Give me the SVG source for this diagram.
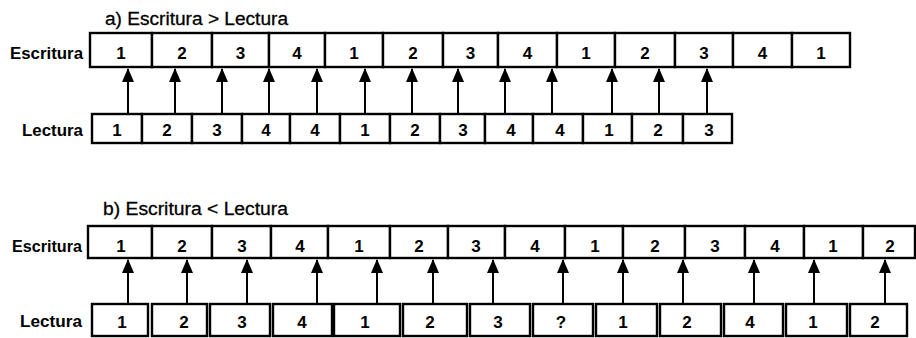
<svg xmlns="http://www.w3.org/2000/svg" width="916" height="338" viewBox="0 0 916 338">
<style>
.bg{fill:#fff}
.box rect{fill:#fff;stroke:#000;stroke-width:2.4}
.box text{font-family:"Liberation Sans",Arial,sans-serif;font-weight:bold;font-size:17px;text-anchor:middle;fill:#000}
.lbl{font-family:"Liberation Sans",Arial,sans-serif;font-weight:bold;font-size:17px;fill:#000}
.ttl{font-family:"Liberation Sans",Arial,sans-serif;font-size:18px;fill:#000;stroke:#000;stroke-width:0.3}
.conn line{stroke:#000;stroke-width:2;marker-end:url(#ah)}
</style>
<defs>
<marker id="ah" markerUnits="userSpaceOnUse" markerWidth="14" markerHeight="12" viewBox="0 0 14 12" refX="13" refY="6" orient="auto">
<path d="M0,0 L14,6 L0,12 Z" fill="#000"/>
</marker>
</defs>
<rect class="bg" width="916" height="338"/>

<text class="ttl" x="105" y="25" textLength="183" lengthAdjust="spacingAndGlyphs">a) Escritura &gt; Lectura</text>
<text class="lbl" x="10" y="59" textLength="73" lengthAdjust="spacingAndGlyphs">Escritura</text>
<text class="lbl" x="22" y="136" textLength="61" lengthAdjust="spacingAndGlyphs">Lectura</text>

<text class="ttl" x="103" y="215" textLength="185" lengthAdjust="spacingAndGlyphs">b) Escritura &lt; Lectura</text>
<text class="lbl" x="12" y="252" textLength="70" lengthAdjust="spacingAndGlyphs">Escritura</text>
<text class="lbl" x="20" y="327" textLength="62" lengthAdjust="spacingAndGlyphs">Lectura</text>

<g id="a-escritura">
<g id="aE1" class="box"><rect x="90" y="33" width="62" height="34"/><text x="121" y="59">1</text></g>
<g id="aE2" class="box"><rect x="152" y="33" width="60" height="34"/><text x="182" y="59">2</text></g>
<g id="aE3" class="box"><rect x="212" y="33" width="57" height="34"/><text x="240.5" y="59">3</text></g>
<g id="aE4" class="box"><rect x="269" y="33" width="56" height="34"/><text x="297" y="59">4</text></g>
<g id="aE5" class="box"><rect x="325" y="33" width="58" height="34"/><text x="354" y="59">1</text></g>
<g id="aE6" class="box"><rect x="383" y="33" width="60" height="34"/><text x="413" y="59">2</text></g>
<g id="aE7" class="box"><rect x="443" y="33" width="55" height="34"/><text x="470.5" y="59">3</text></g>
<g id="aE8" class="box"><rect x="498" y="33" width="59" height="34"/><text x="527.5" y="59">4</text></g>
<g id="aE9" class="box"><rect x="557" y="33" width="58" height="34"/><text x="586" y="59">1</text></g>
<g id="aE10" class="box"><rect x="615" y="33" width="60" height="34"/><text x="645" y="59">2</text></g>
<g id="aE11" class="box"><rect x="675" y="33" width="58" height="34"/><text x="704" y="59">3</text></g>
<g id="aE12" class="box"><rect x="733" y="33" width="59" height="34"/><text x="762.5" y="59">4</text></g>
<g id="aE13" class="box"><rect x="792" y="33" width="58" height="34"/><text x="821" y="59">1</text></g>
</g>

<g id="a-lectura">
<g id="aL1" class="box"><rect x="92" y="114" width="50" height="29"/><text x="117" y="136">1</text></g>
<g id="aL2" class="box"><rect x="142" y="114" width="50" height="29"/><text x="167" y="136">2</text></g>
<g id="aL3" class="box"><rect x="192" y="114" width="50" height="29"/><text x="217" y="136">3</text></g>
<g id="aL4" class="box"><rect x="242" y="114" width="48" height="29"/><text x="266" y="136">4</text></g>
<g id="aL5" class="box"><rect x="290" y="114" width="50" height="29"/><text x="315" y="136">4</text></g>
<g id="aL6" class="box"><rect x="340" y="114" width="50" height="29"/><text x="365" y="136">1</text></g>
<g id="aL7" class="box"><rect x="390" y="114" width="50" height="29"/><text x="415" y="136">2</text></g>
<g id="aL8" class="box"><rect x="440" y="114" width="45" height="29"/><text x="463" y="136">3</text></g>
<g id="aL9" class="box"><rect x="485" y="114" width="48" height="29"/><text x="511" y="136">4</text></g>
<g id="aL10" class="box"><rect x="533" y="114" width="50" height="29"/><text x="560" y="136">4</text></g>
<g id="aL11" class="box"><rect x="583" y="114" width="49" height="29"/><text x="609" y="136">1</text></g>
<g id="aL12" class="box"><rect x="632" y="114" width="51" height="29"/><text x="658" y="136">2</text></g>
<g id="aL13" class="box"><rect x="683" y="114" width="49" height="29"/><text x="709" y="136">3</text></g>
</g>

<g id="b-escritura">
<g id="bE1" class="box"><rect x="88" y="226" width="64" height="32"/><text x="121" y="252">1</text></g>
<g id="bE2" class="box"><rect x="152" y="226" width="60" height="32"/><text x="182" y="252">2</text></g>
<g id="bE3" class="box"><rect x="212" y="226" width="59" height="32"/><text x="242" y="252">3</text></g>
<g id="bE4" class="box"><rect x="271" y="226" width="57" height="32"/><text x="300" y="252">4</text></g>
<g id="bE5" class="box"><rect x="328" y="226" width="62" height="32"/><text x="359" y="252">1</text></g>
<g id="bE6" class="box"><rect x="390" y="226" width="58" height="32"/><text x="419" y="252">2</text></g>
<g id="bE7" class="box"><rect x="448" y="226" width="57" height="32"/><text x="476" y="252">3</text></g>
<g id="bE8" class="box"><rect x="505" y="226" width="60" height="32"/><text x="535" y="252">4</text></g>
<g id="bE9" class="box"><rect x="565" y="226" width="58" height="32"/><text x="595" y="252">1</text></g>
<g id="bE10" class="box"><rect x="623" y="226" width="62" height="32"/><text x="655" y="252">2</text></g>
<g id="bE11" class="box"><rect x="685" y="226" width="60" height="32"/><text x="715" y="252">3</text></g>
<g id="bE12" class="box"><rect x="745" y="226" width="59" height="32"/><text x="775" y="252">4</text></g>
<g id="bE13" class="box"><rect x="804" y="226" width="59" height="32"/><text x="833" y="252">1</text></g>
<g id="bE14" class="box"><rect x="863" y="226" width="52" height="32"/><text x="890" y="252">2</text></g>
</g>

<g id="b-lectura">
<g id="bL1" class="box"><rect x="92" y="304" width="56" height="32"/><text x="122" y="328">1</text></g>
<g id="bL2" class="box"><rect x="152" y="304" width="55" height="32"/><text x="184" y="328">2</text></g>
<g id="bL3" class="box"><rect x="210" y="304" width="60" height="32"/><text x="242" y="328">3</text></g>
<g id="bL4" class="box"><rect x="273" y="304" width="59" height="32"/><text x="302" y="328">4</text></g>
<g id="bL5" class="box"><rect x="334" y="304" width="66" height="32"/><text x="365" y="328">1</text></g>
<g id="bL6" class="box"><rect x="403" y="304" width="64" height="32"/><text x="430" y="328">2</text></g>
<g id="bL7" class="box"><rect x="470" y="304" width="60" height="32"/><text x="498" y="328">3</text></g>
<g id="bL8" class="box"><rect x="533" y="304" width="60" height="32"/><text x="561" y="328">?</text></g>
<g id="bL9" class="box"><rect x="596" y="304" width="61" height="32"/><text x="623" y="328">1</text></g>
<g id="bL10" class="box"><rect x="660" y="304" width="61" height="32"/><text x="687" y="328">2</text></g>
<g id="bL11" class="box"><rect x="724" y="304" width="59" height="32"/><text x="750" y="328">4</text></g>
<g id="bL12" class="box"><rect x="786" y="304" width="61" height="32"/><text x="813" y="328">1</text></g>
<g id="bL13" class="box"><rect x="850" y="304" width="57" height="32"/><text x="875" y="328">2</text></g>
</g>

<g id="connectors" class="conn">
<line x1="128" y1="113" x2="128" y2="69"/>
<line x1="175" y1="113" x2="175" y2="69"/>
<line x1="222" y1="113" x2="222" y2="69"/>
<line x1="269" y1="113" x2="269" y2="69"/>
<line x1="317" y1="113" x2="317" y2="69"/>
<line x1="365" y1="113" x2="365" y2="69"/>
<line x1="412" y1="113" x2="412" y2="69"/>
<line x1="458" y1="113" x2="458" y2="69"/>
<line x1="505" y1="113" x2="505" y2="69"/>
<line x1="552" y1="113" x2="552" y2="69"/>
<line x1="612" y1="113" x2="612" y2="69"/>
<line x1="659" y1="113" x2="659" y2="69"/>
<line x1="707" y1="113" x2="707" y2="69"/>
<line x1="128" y1="303" x2="128" y2="260"/>
<line x1="187" y1="303" x2="187" y2="260"/>
<line x1="247" y1="303" x2="247" y2="260"/>
<line x1="317" y1="303" x2="317" y2="260"/>
<line x1="377" y1="303" x2="377" y2="260"/>
<line x1="433" y1="303" x2="433" y2="260"/>
<line x1="493" y1="303" x2="493" y2="260"/>
<line x1="563" y1="303" x2="563" y2="260"/>
<line x1="623" y1="303" x2="623" y2="260"/>
<line x1="683" y1="303" x2="683" y2="260"/>
<line x1="754" y1="303" x2="754" y2="260"/>
<line x1="814" y1="303" x2="814" y2="260"/>
<line x1="885" y1="303" x2="885" y2="260"/>
</g>
</svg>
